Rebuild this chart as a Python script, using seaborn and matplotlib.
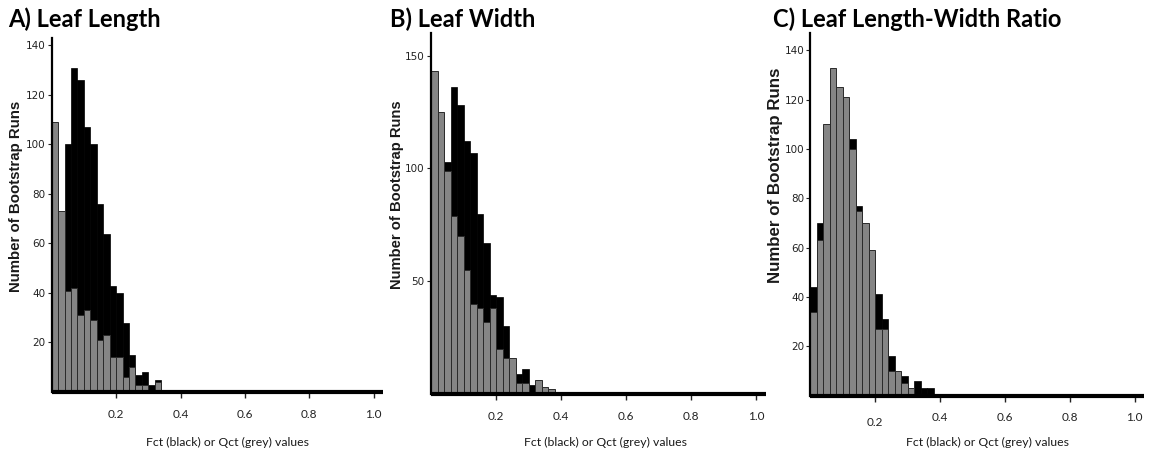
import numpy as np
import pandas as pd
import matplotlib
matplotlib.use("Agg")
import matplotlib.pyplot as plt
import seaborn as sns

# ---- data (counts per 0.02-wide bin, starting at 0) ----
bin_width = 0.02
A_fct = [20, 55, 100, 131, 126, 107, 100, 76, 64, 43, 40, 28, 15, 7, 8, 3, 5]
A_qct = [109, 73, 41, 42, 31, 33, 29, 21, 23, 14, 14, 6, 10, 3, 3, 0, 4]
B_fct = [60, 90, 103, 136, 128, 112, 107, 80, 67, 44, 43, 30, 14, 9, 11, 4, 3, 1, 1]
B_qct = [143, 125, 99, 79, 70, 55, 40, 38, 32, 38, 20, 16, 16, 5, 5, 0, 6, 3, 2]
C_fct = [44, 70, 105, 125, 120, 115, 104, 77, 65, 55, 41, 31, 16, 8, 8, 2, 6, 3, 3]
C_qct = [34, 63, 110, 133, 125, 121, 100, 75, 70, 59, 27, 27, 10, 10, 5, 3, 0, 0, 0]

titles = ["A) Leaf Length", "B) Leaf Width", "C) Leaf Length-Width Ratio"]
ylabel = "Number of Bootstrap Runs"
xlabel = "Fct (black) or Qct (grey) values"
xticks = [0.2, 0.4, 0.6, 0.8, 1.0]
xtick_labels = ["0.2", "0.4", "0.6", "0.8", "1.0"]
yticks_A = [20, 40, 60, 80, 100, 120, 140]
yticks_B = [50, 100, 150]
yticks_C = [20, 40, 60, 80, 100, 120, 140]

sns.set_theme(style="white")
plt.rcParams["font.family"] = ["Lato", "DejaVu Sans"]

W, H = 1150, 457
fig = plt.figure(figsize=(W / 100, H / 100), dpi=100)

panels = [
    dict(fct=A_fct, qct=A_qct, left=51.7, x_px=322, y0=392.0, ytop=38, ymax=143, yt=yticks_A,
         title_x=8, ylab_x=16, ylab_y=196, ylab_fs=10.8, xlab_x=227),
    dict(fct=B_fct, qct=B_qct, left=431, x_px=325, y0=394.0, ytop=33, ymax=160, yt=yticks_B,
         title_x=390, ylab_x=397, ylab_y=195, ylab_fs=10.6, xlab_x=605),
    dict(fct=C_fct, qct=C_qct, left=810.5, x_px=324, y0=395.5, ytop=33, ymax=147, yt=yticks_C,
         title_x=773, ylab_x=776, ylab_y=175, ylab_fs=12.2, xlab_x=987),
]

xmax = 1.03
for i, p in enumerate(panels):
    width_px = p["x_px"] * xmax
    h_px = p["y0"] - p["ytop"]
    ax = fig.add_axes([p["left"] / W, (H - p["y0"]) / H, width_px / W, h_px / H])

    n = len(p["fct"])
    centers = np.arange(n) * bin_width + bin_width / 2
    df = pd.DataFrame({"x": centers, "fct": p["fct"], "qct": p["qct"]})

    sns.histplot(data=df, x="x", weights="fct", binwidth=bin_width, binrange=(0, n * bin_width),
                 ax=ax, color="black", edgecolor="black", linewidth=0.5, alpha=1)
    sns.histplot(data=df, x="x", weights="qct", binwidth=bin_width, binrange=(0, n * bin_width),
                 ax=ax, color="#858585", edgecolor="#2a2a2a", linewidth=0.7, alpha=1)

    ax.set_xlim(0, xmax)
    ax.set_ylim(0, p["ymax"])
    ax.set_xticks(xticks)
    ax.set_xticklabels(xtick_labels, fontsize=8.5, family=["Lato", "DejaVu Sans"])
    ax.set_yticks(p["yt"])
    ax.set_yticklabels([str(v) for v in p["yt"]], fontsize=7.5,
                       family=["Liberation Sans Narrow", "DejaVu Sans"])
    ax.tick_params(axis="x", length=4, width=1, pad=8, colors="#222222", direction="out", bottom=True)
    ax.tick_params(axis="y", length=3, width=0.8, pad=1.5, colors="#222222", direction="out", left=True)

    for s in ["top", "right"]:
        ax.spines[s].set_visible(False)
    ax.spines["left"].set_linewidth(1.6)
    ax.spines["left"].set_color("black")
    ax.spines["bottom"].set_linewidth(3.0)
    ax.spines["bottom"].set_color("black")
    ax.spines["bottom"].set_capstyle("butt")

    ax.set_ylabel(ylabel, fontsize=p["ylab_fs"], fontweight="bold",
                  family=["Liberation Sans", "DejaVu Sans"], color="#1a1a1a")
    ax.yaxis.set_label_coords((p["ylab_x"] - p["left"]) / width_px,
                              (p["y0"] - p["ylab_y"]) / h_px)
    ax.yaxis.label.set_va("center")
    ax.set_xlabel(xlabel, fontsize=8.8, family=["Lato", "DejaVu Sans"], color="#1a1a1a")
    ax.xaxis.set_label_coords((p["xlab_x"] - p["left"]) / width_px, -(442 - p["y0"]) / h_px)
    ax.xaxis.label.set_va("center")

    if i == 2:
        ax.xaxis.get_major_ticks()[0].label1.set_y(-5 / h_px)

    fig.text(p["title_x"] / W, (H - 27) / H, titles[i], fontsize=17, fontweight="bold",
             family=["Lato", "DejaVu Sans"], ha="left", va="baseline", color="black")

fig.savefig("out.png", dpi=100)
